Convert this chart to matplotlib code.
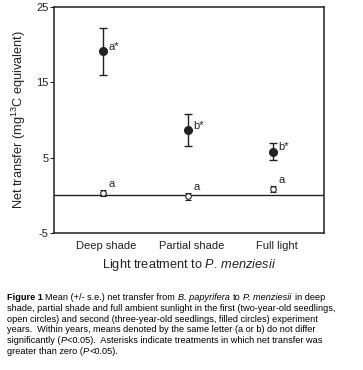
import matplotlib.pyplot as plt
import matplotlib.transforms as mtransforms

plt.rcParams['font.family'] = 'Liberation Sans'
plt.rcParams['mathtext.fontset'] = 'custom'
plt.rcParams['mathtext.rm'] = 'Liberation Sans'
plt.rcParams['mathtext.it'] = 'Liberation Sans:italic'
plt.rcParams['mathtext.bf'] = 'Liberation Sans:bold'
plt.rcParams['axes.unicode_minus'] = False

treatments = ['Deep shade', 'Partial shade', 'Full light']
year2_mean = [19.1, 8.7, 5.8]
year2_se = [3.1, 2.1, 1.1]
year2_letters = ['a*', 'b*', 'b*']
year1_mean = [0.25, -0.15, 0.8]
year1_se = [0.4, 0.4, 0.4]
year1_letters = ['a', 'a', 'a']

# caption pieces: (text, style, space before)
caption_lines = [
    [('Figure 1', 'bold', False), ('Mean (+/- s.e.) net transfer from', 'normal', True),
     ('B. papyrifera', 'italic', True), ('to', 'normal', True),
     ('P. menziesii', 'italic', True), ('in deep', 'normal', True)],
    [('shade, partial shade and full ambient sunlight in the first (two-year-old seedlings,', 'normal', False)],
    [('open circles) and second (three-year-old seedlings, filled circles) experiment', 'normal', False)],
    [('years.  Within years, means denoted by the same letter (a or b) do not differ', 'normal', False)],
    [('significantly (', 'normal', False), ('P', 'italic', False),
     ('<0.05).  Asterisks indicate treatments in which net transfer was', 'normal', False)],
    [('greater than zero (', 'normal', False), ('P', 'italic', False), ('<0.05).', 'normal', False)],
]

fig = plt.figure(figsize=(3.63, 3.70), dpi=100)
ax = fig.add_axes([0.149, 0.370, 0.744, 0.612])

x = list(range(1, len(treatments) + 1))
ink = '#222222'

ax.axhline(0, color=ink, lw=1.0, zorder=1)
ax.errorbar(x, year2_mean, yerr=year2_se, fmt='o', color=ink, ms=5.5,
            capsize=3, elinewidth=1, capthick=1, zorder=3)
ax.errorbar(x, year1_mean, yerr=year1_se, fmt='o', color=ink, mfc='white',
            ms=4, mew=0.8, capsize=2.5, elinewidth=0.8, capthick=0.8, zorder=3)

for xi, m, lab in zip(x, year2_mean, year2_letters):
    ax.annotate(lab, (xi, m), xytext=(4, 3), textcoords='offset points',
                fontsize=8, va='center', ha='left', color=ink)
for xi, m, lab in zip(x, year1_mean, year1_letters):
    ax.annotate(lab, (xi, m), xytext=(4, 7), textcoords='offset points',
                fontsize=8, va='center', ha='left', color=ink)

ax.set_xlim(0.43, 3.6)
ax.set_ylim(-5, 25)
ax.set_yticks([-5, 5, 15, 25])
ax.set_xticks(x)
ax.set_xticklabels(treatments, fontsize=8, color=ink)
ax.tick_params(axis='x', length=0, pad=6)
ax.tick_params(axis='y', labelsize=8, length=3, width=0.8, colors=ink, pad=1)
shift = mtransforms.ScaledTranslation(4 / 100, 0, fig.dpi_scale_trans)
for lbl in ax.get_xticklabels():
    lbl.set_transform(lbl.get_transform() + shift)
for s in ax.spines.values():
    s.set_color(ink)
    s.set_linewidth(1.1)

ax.set_ylabel('Net transfer (mg$^{13}$C equivalent)', fontsize=9.2, color=ink, labelpad=6)
ax.set_xlabel('Light treatment to $\\mathit{P.\\,menziesii}$', fontsize=9.2,
              color=ink, labelpad=4)

# caption, built piece by piece so bold/italic words sit on one baseline
fs = 6.6
W, H = 363, 370
renderer = fig.canvas.get_renderer()
tmp1 = fig.text(0, 0, 'x x', fontsize=fs)
tmp2 = fig.text(0, 0, 'xx', fontsize=fs)
space_w = tmp1.get_window_extent(renderer).width - tmp2.get_window_extent(renderer).width
tmp1.remove()
tmp2.remove()

for i, pieces in enumerate(caption_lines):
    y = 1 - (300 + 10.8 * i) / H
    xpx = 7.0
    prev_style = None
    for txt, style, gap in pieces:
        if gap:
            xpx += space_w
            if prev_style == 'italic':
                xpx += 1.0
        kw = {'fontweight': 'bold'} if style == 'bold' else {}
        if style == 'italic':
            kw['fontstyle'] = 'italic'
        t = fig.text(xpx / W, y, txt, fontsize=fs, va='baseline', ha='left',
                     color='black', **kw)
        xpx = t.get_window_extent(renderer).x1
        prev_style = style

fig.savefig('out.png', dpi=100)
